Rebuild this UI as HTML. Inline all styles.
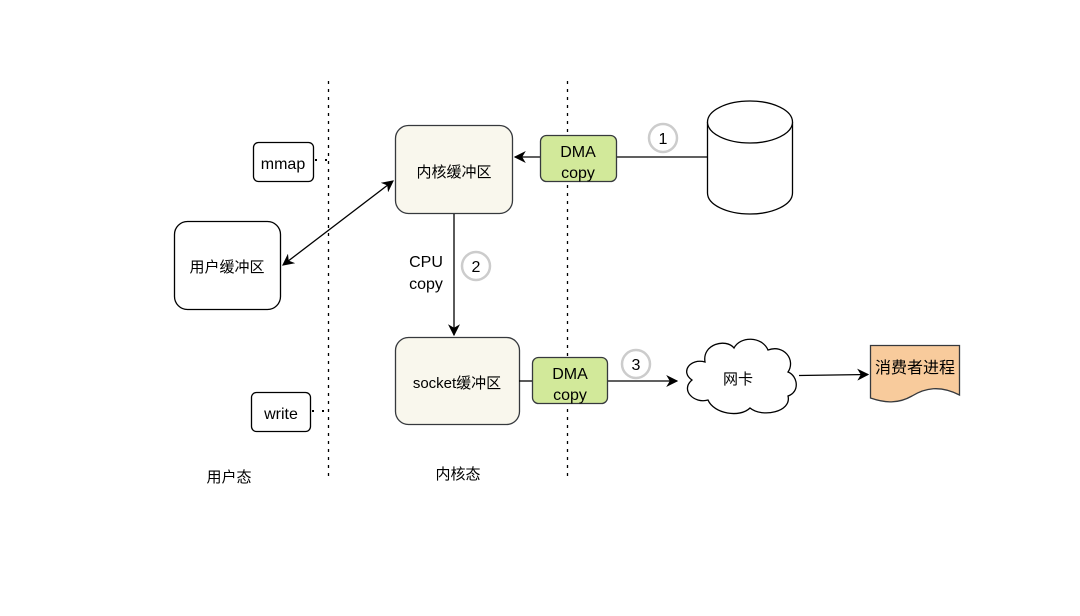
<!DOCTYPE html>
<html><head><meta charset="utf-8"><style>
html,body{margin:0;padding:0;background:#fff;}
svg{display:block;}
text{font-family:"Liberation Sans","Noto Sans CJK SC",sans-serif;fill:#000;}
</style></head><body>
<svg width="1080" height="616" viewBox="0 0 1080 616" xmlns="http://www.w3.org/2000/svg">
<defs>
<marker id="ah" viewBox="0 0 10 10" refX="9" refY="5" markerWidth="12" markerHeight="12" markerUnits="userSpaceOnUse" orient="auto-start-reverse">
<path d="M0,0 L10,5 L0,10 L3,5 z" fill="#000"/>
</marker>
</defs>
<rect width="1080" height="616" fill="#fff"/>
<line x1="328.5" y1="81" x2="328.5" y2="476" stroke="#000" stroke-width="1.3" stroke-dasharray="3,5"/>
<line x1="567.5" y1="81" x2="567.5" y2="476" stroke="#000" stroke-width="1.3" stroke-dasharray="3,5"/>
<g stroke-width="1.3">
<rect x="253.5" y="142.5" width="60" height="39" rx="5" fill="#fff" stroke="#000"/>
<rect x="251.5" y="392.5" width="59" height="39" rx="5" fill="#fff" stroke="#000"/>
<rect x="174.5" y="221.5" width="106" height="88" rx="13" fill="#fff" stroke="#000"/>
<rect x="395.5" y="125.5" width="117" height="88" rx="13" fill="#f9f7ed" stroke="#36393d"/>
<rect x="395.5" y="337.5" width="124" height="87" rx="13" fill="#f9f7ed" stroke="#36393d"/>
<line x1="283" y1="265" x2="393" y2="181" stroke="#000" marker-start="url(#ah)" marker-end="url(#ah)"/>
<line x1="454" y1="214" x2="454" y2="335" stroke="#000" marker-end="url(#ah)"/>
<line x1="616" y1="157" x2="708" y2="157" stroke="#000"/>
<line x1="540" y1="157" x2="515" y2="157" stroke="#000" marker-end="url(#ah)"/>
<rect x="540.5" y="135.5" width="76" height="46" rx="6" fill="#d2e99a" stroke="#36393d"/>
<path d="M707.5,122 L707.5,193 A42.5,21 0 0 0 792.5,193 L792.5,122" fill="#fff" stroke="#000"/>
<ellipse cx="750" cy="122" rx="42.5" ry="21" fill="#fff" stroke="#000"/>
<line x1="519" y1="381" x2="532" y2="381" stroke="#000"/>
<line x1="607" y1="381" x2="677" y2="381" stroke="#000" marker-end="url(#ah)"/>
<rect x="532.5" y="357.5" width="75" height="46" rx="6" fill="#d2e99a" stroke="#36393d"/>
<path d="M705,362 C690,358 680,372 692,380 C680,390 694,404 708,400 C714,414 740,418 750,408 C762,418 792,412 788,396 C800,392 798,376 788,372 C796,360 784,344 768,350 C762,336 740,336 734,348 C726,338 702,344 705,362 Z" fill="#fff" stroke="#000"/>
<line x1="799" y1="375.5" x2="868" y2="374.5" stroke="#000" marker-end="url(#ah)"/>
<path d="M870.5,345.5 L959.5,345.5 L959.5,395 C940,385 925,388 912,396 C898,404 885,403 870.5,398 Z" fill="#f8cb9c" stroke="#36393d"/>
</g>
<line x1="315" y1="160" x2="330" y2="160" stroke="#000" stroke-width="2" stroke-dasharray="2,8"/>
<line x1="312" y1="411" x2="327" y2="411" stroke="#000" stroke-width="2" stroke-dasharray="2,8"/>
<circle cx="663" cy="138" r="14" fill="#fff" stroke="#ccc" stroke-width="2.5"/>
<circle cx="476" cy="266" r="14" fill="#fff" stroke="#ccc" stroke-width="2.5"/>
<circle cx="636" cy="364" r="14" fill="#fff" stroke="#ccc" stroke-width="2.5"/>
<text x="283" y="169" font-size="16" text-anchor="middle">mmap</text>
<text x="281" y="419" font-size="16" text-anchor="middle">write</text>
<text x="227" y="272" font-size="15" text-anchor="middle">用户缓冲区</text>
<text x="454" y="177" font-size="15" text-anchor="middle">内核缓冲区</text>
<text x="457" y="388" font-size="15" text-anchor="middle">socket缓冲区</text>
<text x="426" y="267" font-size="16" text-anchor="middle">CPU</text>
<text x="426" y="289" font-size="16" text-anchor="middle">copy</text>
<text x="476" y="272" font-size="16" text-anchor="middle">2</text>
<text x="578" y="157" font-size="16" text-anchor="middle">DMA</text>
<text x="578" y="178" font-size="16" text-anchor="middle">copy</text>
<text x="663" y="144" font-size="16" text-anchor="middle">1</text>
<text x="570" y="379" font-size="16" text-anchor="middle">DMA</text>
<text x="570" y="400" font-size="16" text-anchor="middle">copy</text>
<text x="636" y="370" font-size="16" text-anchor="middle">3</text>
<text x="738" y="384" font-size="15" text-anchor="middle">网卡</text>
<text x="915" y="373" font-size="16" text-anchor="middle">消费者进程</text>
<text x="229" y="482" font-size="15" text-anchor="middle">用户态</text>
<text x="458" y="479" font-size="15" text-anchor="middle">内核态</text>
</svg>
</body></html>
